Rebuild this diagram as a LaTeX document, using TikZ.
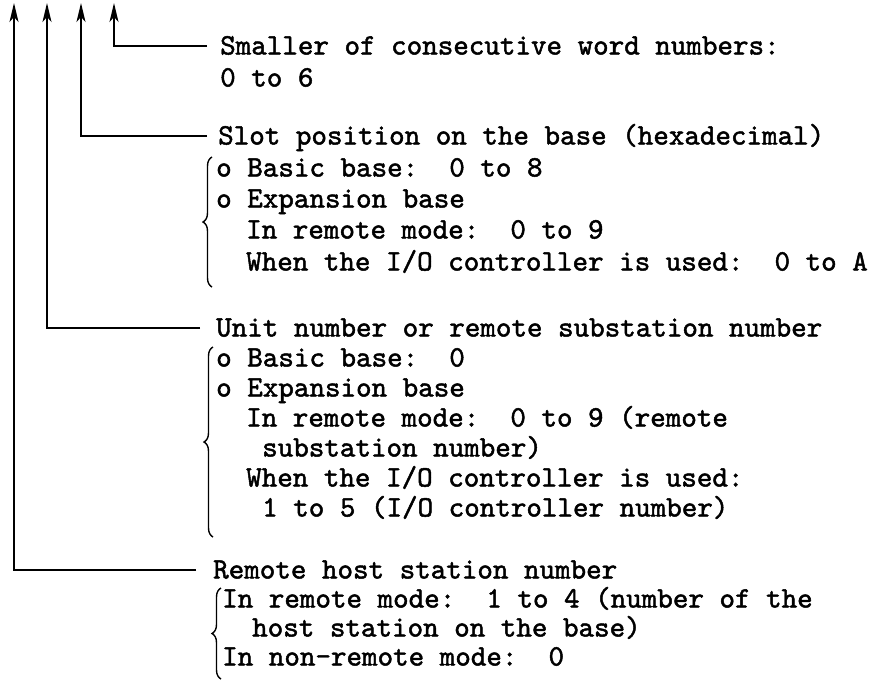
\documentclass[tikz,border=0pt]{standalone}
\usepackage{fontspec}
\newfontfamily\twfont{lmmono10-regular.otf}[FakeBold=1.6]
\usetikzlibrary{arrows.meta,decorations.pathreplacing}
\begin{document}
\begin{tikzpicture}[x=1pt,y=-1pt,
  txt/.style={anchor=west,inner sep=0pt,text height=20pt,text depth=3pt,
              font=\twfont\fontsize{29.6}{30}\selectfont},
  conn/.style={line width=1.6pt,-{Stealth[length=19pt,width=9pt,inset=5pt]}},
  brc/.style={line width=1.4pt,decorate,decoration={brace,amplitude=9pt,aspect=0.5}}]
\useasboundingbox (0,0) rectangle (875,680);

% arrow tips
\coordinate (t1) at (14,3);
\coordinate (t2) at (47,3);
\coordinate (t3) at (81,3);
\coordinate (t4) at (114,3);

% group A
\node[txt] (a1) at (220,46) {Smaller of consecutive word numbers:};
\node[txt] (a2) at (220,78) {0 to 6};

% group B
\node[txt] (b1) at (218,136) {Slot position on the base (hexadecimal)};
\node[txt] (b2) at (216,168) {o Basic base:~~0 to 8};
\node[txt] (b3) at (216,199) {o Expansion base};
\node[txt] (b4) at (246,230) {In remote mode:~~0 to 9};
\node[txt] (b5) at (246,262) {When the I/O controller is used:~~0 to A};

% group C
\node[txt] (c1) at (216,328) {Unit number or remote substation number};
\node[txt] (c2) at (216,358) {o Basic base:~~0};
\node[txt] (c3) at (216,388) {o Expansion base};
\node[txt] (c4) at (246,418) {In remote mode:~~0 to 9 (remote};
\node[txt] (c5) at (262,448) {substation number)};
\node[txt] (c6) at (246,478) {When the I/O controller is used:};
\node[txt] (c7) at (262,508) {1 to 5 (I/O controller number)};

% group D
\node[txt] (d1) at (213,570) {Remote host station number};
\node[txt] (d2) at (222,599) {In remote mode:~~1 to 4 (number of the};
\node[txt] (d3) at (252,628) {host station on the base)};
\node[txt] (d4) at (222,657) {In non-remote mode:~~0};

% connectors
\draw[conn] ([xshift=-13pt]a1.west) -| (t4);
\draw[conn] ([xshift=-11pt]b1.west) -| (t3);
\draw[conn] ([xshift=-16pt]c1.west) -| (t2);
\draw[conn] ([xshift=-17pt]d1.west) -| (t1);

% braces
\draw[brc] (212,287) -- (212,157);
\draw[brc] (213,537) -- (213,347);
\draw[brc] (221,679) -- (221,588);
\end{tikzpicture}
\end{document}
